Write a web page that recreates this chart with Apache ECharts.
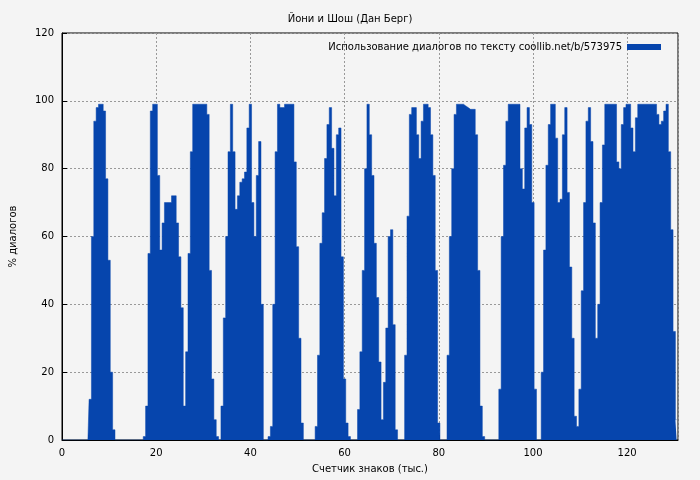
<!DOCTYPE html>
<html><head><meta charset="utf-8">
<script src="https://cdn.jsdelivr.net/npm/echarts@6/dist/echarts.min.js"></script>
<style>html,body{margin:0;background:#f4f4f4}#c{width:700px;height:480px}</style>
</head><body><div id="c"></div>
<script>
const step = 0.5;
const xEnd = 130.5;
// each hump: start x, values at 0.5 steps
const hump1 = {start: 6.0, v: [12,60,94,98,99,99,97,77,53,20,3]};
const hump2 = {start: 17.5, v: [1,10,55,97,99,99,78,56,64,70,70,70,72,72,64,54,39,10,26,55,85,99,99,99,99,99,99,96,50,18,6,1,0,10,36,60,85,99,85,68,72,76,77,79,92,99,70,60,78,88,40]};
const hump3 = {start: 44.0, v: [1,4,40,85,99,98,98,99,99,99,99,82,57,30,5]};
const hump4 = {start: 54.0, v: [4,25,58,67,83,93,98,86,72,90,92,54,18,5,1]};
const hump5 = {start: 63.0, v: [9,26,50,80,99,90,78,58,42,23,6,17,33,60,62,34,3]};
const hump6 = {start: 73.0, v: [25,66,96,98,98,90,83,94,99,99,98,90,78,50,5]};
const hump7 = {start: 82.0, v: [25,60,80,96,99,99,99,98.5,98,97.5,97.5,97.5,90,50,10,1]};
const hump8 = {start: 93.0, v: [15,60,81,94,99,99,99,99,99,80,74,92,98,93,70,15]};
const hump9 = {start: 102.0, v: [20,56,81,93,99,99,89,70,71,90,98,73,51,30,7,4,15,44,70,94,98,88,64,30,40,70,87,99,99,99,99,99,82,80,93,98,99,99,92,85,95,99,99,99,99,99,99,99,99,96,93,94,97,99,85,62,32,6]};
const humps = [hump1,hump2,hump3,hump4,hump5,hump6,hump7,hump8,hump9];
const yTicks = [0,20,40,60,80,100,120];

const data = [];
const n = Math.round(xEnd/step);
const vals = new Array(n+1).fill(0);
humps.forEach(h => { const s = Math.round(h.start/step); h.v.forEach((y,i)=>{ vals[s+i]=y; }); });
vals.forEach((y,i)=>data.push([i*step,y]));

const chart = echarts.init(document.getElementById('c'));
const font = 'DejaVu Sans';
chart.setOption({
  backgroundColor:'#f4f4f4',
  animation:false,
  textStyle:{fontFamily:font},
  title:{text:'Йони и Шош (Дан Берг)',left:'center',top:9,textStyle:{fontSize:10,fontWeight:'normal',color:'#000',fontFamily:font}},
  legend:{right:34,top:37,align:'right',itemWidth:34,itemHeight:6,itemGap:6,
    textStyle:{fontSize:10,color:'#000',fontFamily:font},
    data:[{name:'Использование диалогов по тексту coollib.net/b/573975',icon:'rect'}]},
  grid:{left:60,right:22,top:33,bottom:40,show:true,borderColor:'#000',borderWidth:1,backgroundColor:'transparent'},
  xAxis:{type:'value',min:0,max:130.8,interval:20,
    name:'Счетчик знаков (тыс.)',nameLocation:'middle',nameGap:24,nameTextStyle:{fontSize:10,color:'#000'},
    axisLine:{lineStyle:{color:'#000'}},axisTick:{inside:true,lineStyle:{color:'#000'}},
    axisLabel:{fontSize:10,color:'#000',showMaxLabel:false},
    splitLine:{show:true,lineStyle:{type:[2,2],color:'#999'}}},
  yAxis:{type:'value',min:0,max:120,interval:20,
    name:'% диалогов',nameLocation:'middle',nameGap:44,nameTextStyle:{fontSize:10,color:'#000'},
    axisLine:{show:true,lineStyle:{color:'#000'}},axisTick:{inside:true,lineStyle:{color:'#000'}},
    axisLabel:{fontSize:10,color:'#000',formatter:v=>yTicks.includes(v)?String(v):''},
    splitLine:{show:true,lineStyle:{type:[2,2],color:'#999'}}},
  series:[{name:'Использование диалогов по тексту coollib.net/b/573975',type:'line',step:'middle',
    data:data,symbol:'none',color:'#0645ad',
    lineStyle:{width:0.5,color:'#0645ad'},areaStyle:{color:'#0645ad',opacity:1}}]
});
</script></body></html>
